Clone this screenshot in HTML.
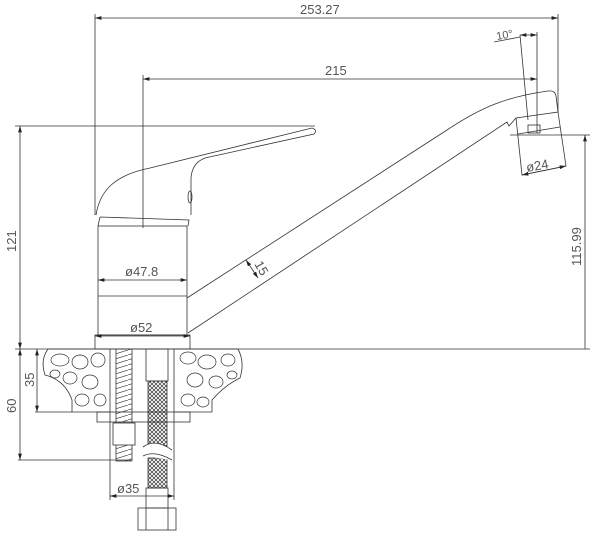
<!DOCTYPE html>
<html><head><style>html,body{margin:0;padding:0;background:#fff}svg{display:block}</style></head>
<body>
<svg width="600" height="542" viewBox="0 0 600 542" xmlns="http://www.w3.org/2000/svg">
<defs>
<marker id="a" viewBox="0 0 10 6" refX="10" refY="3" markerWidth="8" markerHeight="5" orient="auto-start-reverse"><path d="M0,0L10,3L0,6z" fill="#222"/></marker>
<pattern id="mesh" width="4" height="4" patternUnits="userSpaceOnUse"><path d="M0,0L4,4M4,0L0,4" stroke="#333" stroke-width="0.7"/></pattern>
<pattern id="thr" width="16" height="5" patternUnits="userSpaceOnUse"><path d="M0,5L16,0" stroke="#444" stroke-width="0.7"/></pattern>
</defs>
<g fill="none" stroke="#333" stroke-width="0.8" font-family="Liberation Sans, sans-serif">
<line x1="95" y1="14" x2="95" y2="215"/>
<line x1="558" y1="14" x2="558" y2="112"/>
<line x1="95" y1="18" x2="558" y2="18" marker-start="url(#a)" marker-end="url(#a)"/>
<line x1="143" y1="75" x2="143" y2="228"/>
<line x1="537" y1="32" x2="537" y2="133"/>
<line x1="143" y1="79" x2="537" y2="79" marker-start="url(#a)" marker-end="url(#a)"/>
<line x1="494" y1="42" x2="520" y2="37"/>
<line x1="520" y1="35" x2="537" y2="35" marker-start="url(#a)" marker-end="url(#a)"/>
<line x1="520" y1="35" x2="528" y2="120"/>
<line x1="15" y1="126" x2="315" y2="126"/>
<line x1="20" y1="126" x2="20" y2="349" marker-start="url(#a)" marker-end="url(#a)"/>
<line x1="15" y1="349" x2="590" y2="349"/>
<line x1="510" y1="135" x2="590" y2="135"/>
<line x1="585" y1="135" x2="585" y2="349" marker-start="url(#a)"/>
<!-- handle -->
<path d="M96,215 C100,190 115,175 150,168 L312,128 Q318,130 314,134 L205,158 Q192,163 191,178 L191,215"/>
<path d="M100,217 L189,220 L188,226 M100,217 L98,226"/>
<ellipse cx="190" cy="197" rx="2" ry="6"/>
<rect x="98" y="226" width="89" height="109"/>
<line x1="98" y1="296" x2="187" y2="296"/>
<line x1="98" y1="280" x2="187" y2="280" marker-start="url(#a)" marker-end="url(#a)"/>
<rect x="95" y="335" width="95" height="14"/>
<line x1="95" y1="336" x2="190" y2="336" marker-start="url(#a)" marker-end="url(#a)"/>
<path d="M187,298 L447,130 C480,108 505,97 548,91 Q555,90 556,96 L558,112 L516,118 L509,126 L507,122 L188,333"/>
<path d="M516,118 L522,175 L566,166 L558,112"/>
<line x1="518" y1="134" x2="560" y2="127"/>
<rect x="528" y="125" width="12" height="8"/>
<line x1="522" y1="175" x2="566" y2="166" marker-start="url(#a)" marker-end="url(#a)"/>
<line x1="246" y1="260" x2="258" y2="278" marker-start="url(#a)" marker-end="url(#a)"/>
<path d="M110,349 L48,349 Q40,360 45,375 Q65,380 72,400 L72,412 L110,412" />
<path d="M175,349 L238,349 Q245,362 240,378 Q225,385 212,400 L212,412 L175,412" />
<g stroke-width="0.7">
<ellipse cx="60" cy="360" rx="9" ry="6"/><ellipse cx="80" cy="362" rx="8" ry="7"/><ellipse cx="98" cy="360" rx="7" ry="7"/>
<ellipse cx="70" cy="378" rx="7" ry="6"/><ellipse cx="90" cy="382" rx="8" ry="7"/><ellipse cx="82" cy="400" rx="7" ry="6"/><ellipse cx="100" cy="400" rx="6" ry="6"/><ellipse cx="55" cy="374" rx="5" ry="4"/>
<ellipse cx="188" cy="358" rx="8" ry="6"/><ellipse cx="207" cy="362" rx="9" ry="7"/><ellipse cx="228" cy="360" rx="7" ry="6"/>
<ellipse cx="195" cy="380" rx="8" ry="7"/><ellipse cx="216" cy="382" rx="7" ry="6"/><ellipse cx="188" cy="400" rx="7" ry="6"/><ellipse cx="203" cy="402" rx="6" ry="5"/><ellipse cx="232" cy="375" rx="5" ry="4"/>
</g>
<rect x="97" y="412" width="93" height="10"/>
<rect x="116" y="349" width="16" height="112" fill="url(#thr)"/>
<rect x="113" y="423" width="22" height="22" fill="#fff"/>
<line x1="110" y1="349" x2="110" y2="500"/><line x1="174" y1="349" x2="174" y2="500"/>
<rect x="146" y="349" width="22" height="32"/>
<rect x="148" y="381" width="19" height="66" fill="url(#mesh)"/>
<rect x="148" y="458" width="19" height="30" fill="url(#mesh)"/>
<path d="M143,447 Q155,438 172,450 M143,456 Q155,450 172,460" stroke="#333" fill="#fff"/>
<rect x="146" y="488" width="22" height="20"/>
<rect x="138" y="508" width="38" height="22"/>
<line x1="146" y1="508" x2="146" y2="530"/><line x1="168" y1="508" x2="168" y2="530"/>
<line x1="110" y1="496" x2="174" y2="496" marker-start="url(#a)" marker-end="url(#a)"/>
<line x1="18" y1="460" x2="131" y2="460"/>
<line x1="20" y1="349" x2="20" y2="460" marker-start="url(#a)" marker-end="url(#a)"/>
<line x1="35" y1="412" x2="72" y2="412"/>
<line x1="37" y1="349" x2="37" y2="412" marker-start="url(#a)" marker-end="url(#a)"/>
</g>
<g fill="#555" font-family="Liberation Sans, sans-serif" font-size="13">
<text x="300" y="14">253.27</text>
<text x="325" y="75">215</text>
<text x="497" y="40" font-size="11" transform="rotate(-10 497 40)">10°</text>
<text x="125" y="276">ø47.8</text>
<text x="130" y="332">ø52</text>
<text x="527" y="172" transform="rotate(-10 527 172)">ø24</text>
<text x="254" y="264" transform="rotate(60 254 264)">15</text>
<text x="117" y="493">ø35</text>
<text transform="translate(16,252) rotate(-90)">121</text>
<text transform="translate(16,413) rotate(-90)">60</text>
<text transform="translate(34,387) rotate(-90)">35</text>
<text transform="translate(581,266) rotate(-90)">115.99</text>
</g>
</svg>
</body></html>
